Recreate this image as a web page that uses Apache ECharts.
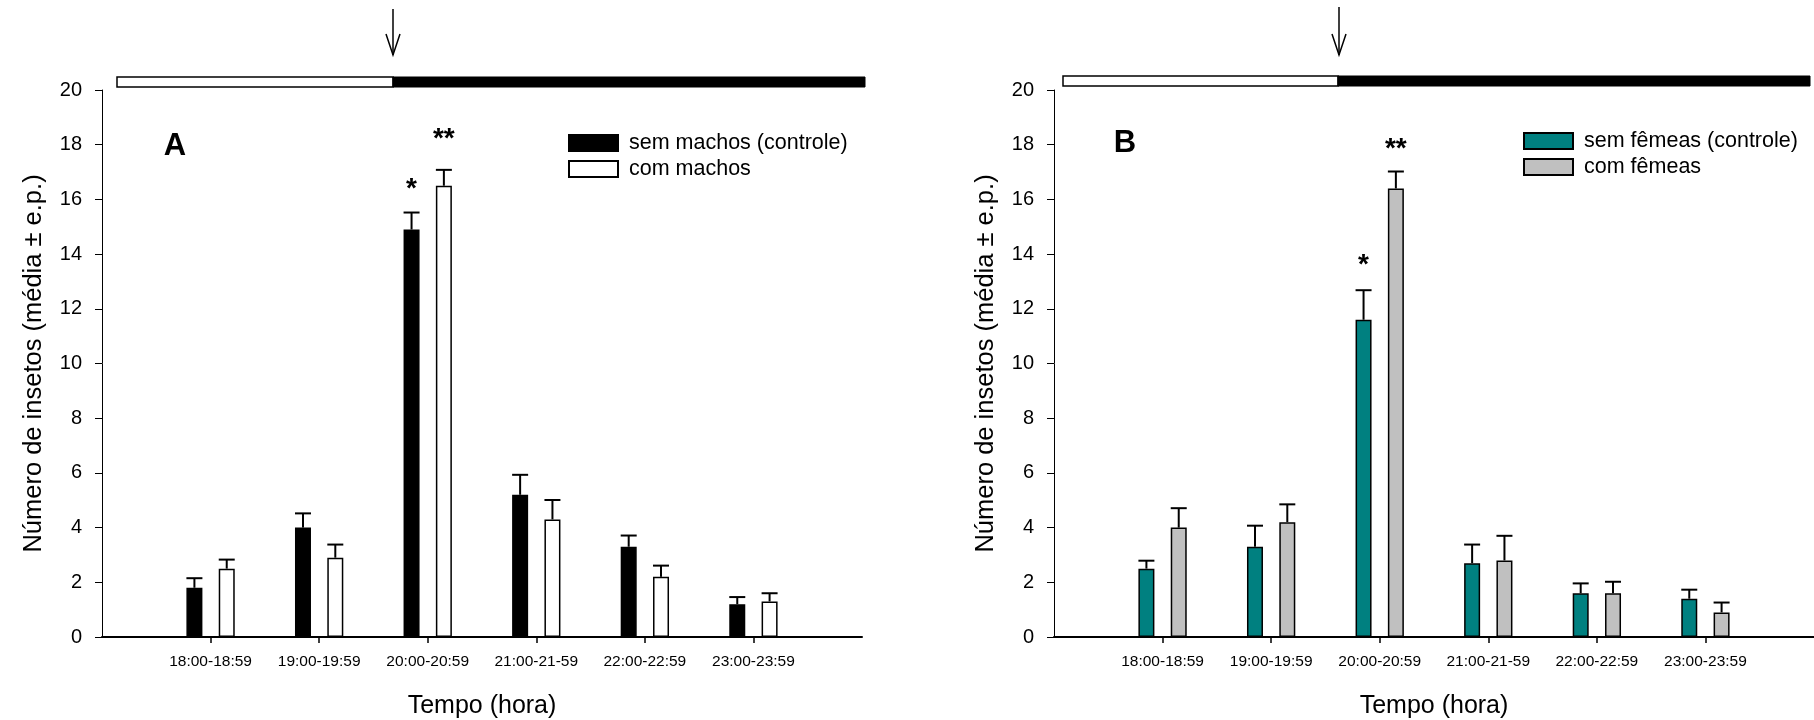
<!DOCTYPE html>
<html><head><meta charset="utf-8">
<script src="https://cdn.jsdelivr.net/npm/echarts@6/dist/echarts.min.js"></script>
<style>html,body{margin:0;padding:0;background:#fff}#c{width:1814px;height:720px}</style>
</head><body><div id="c"></div>
<script>
// ---- data ----
const categories = ['18:00-18:59','19:00-19:59','20:00-20:59','21:00-21-59','22:00-22:59','23:00-23:59'];
const yMin = 0, yMax = 20, yStep = 2;

const semMachos   = [1.8, 4.0, 14.9, 5.2, 3.3, 1.2];
const semMachosSE = [0.35, 0.52, 0.62, 0.73, 0.41, 0.26];
const comMachos   = [2.5, 2.9, 16.5, 4.3, 2.2, 1.3];
const comMachosSE = [0.33, 0.48, 0.58, 0.71, 0.41, 0.30];

const semFemeas   = [2.5, 3.3, 11.6, 2.7, 1.6, 1.4];
const semFemeasSE = [0.29, 0.77, 1.08, 0.68, 0.36, 0.33];
const comFemeas   = [4.0, 4.2, 16.4, 2.8, 1.6, 0.9];
const comFemeasSE = [0.71, 0.65, 0.62, 0.90, 0.42, 0.36];

// significance marks and the level (in y units) at which they are printed
const sigSemMachos = ['', '', '*', '', '', ''];
const sigSemMachosAt = [0, 0, 16.6, 0, 0, 0];
const sigComMachos = ['', '', '**', '', '', ''];
const sigComMachosAt = [0, 0, 18.4, 0, 0, 0];
const sigSemFemeas = ['', '', '*', '', '', ''];
const sigSemFemeasAt = [0, 0, 13.8, 0, 0, 0];
const sigComFemeas = ['', '', '**', '', '', ''];
const sigComFemeasAt = [0, 0, 18.05, 0, 0, 0];

const namesA = ['sem machos (controle)', 'com machos'];
const namesB = ['sem f\u00eameas (controle)', 'com f\u00eameas'];
const yTitle = 'N\u00famero de insetos (m\u00e9dia \u00b1 e.p.)';
const xTitle = 'Tempo (hora)';

// ---- styles ----
const FONT = '"Liberation Sans", Arial, sans-serif';
const BAR_W = 16, BAR_GAP = 1.02;
const OFFSET = BAR_W * (1 + BAR_GAP) / 2;
const CAP = 16;

const axisCats = [''].concat(categories, ['']);
const pad = arr => ['-'].concat(arr, ['-']);

function barSeries(name, idx, vals, fill) {
  return {
    name, type: 'bar', xAxisIndex: idx, yAxisIndex: idx,
    data: pad(vals), barWidth: BAR_W, barGap: (BAR_GAP * 100) + '%',
    itemStyle: { color: fill, borderColor: '#000', borderWidth: 1.5 },
    emphasis: { disabled: true }, animation: false
  };
}
function errSeries(idx, vals, ses, sigs, sigAt, side) {
  return {
    type: 'custom', xAxisIndex: idx, yAxisIndex: idx, z: 3, animation: false,
    data: vals.map((m, i) => [i + 1, m, ses[i], sigAt[i]]),
    encode: { x: 0, y: 1 },
    renderItem: (params, api) => {
      const i = params.dataIndex;
      const base = api.coord([api.value(0), api.value(1)]);
      const top = api.coord([api.value(0), api.value(1) + api.value(2)]);
      const cx = base[0] + side * OFFSET;
      const ch = [
        { type: 'line', shape: { x1: cx, y1: base[1], x2: cx, y2: top[1] }, style: { stroke: '#000', lineWidth: 2 } },
        { type: 'line', shape: { x1: cx - CAP / 2, y1: top[1], x2: cx + CAP / 2, y2: top[1] }, style: { stroke: '#000', lineWidth: 2 } }
      ];
      if (sigs[i]) {
        const sp = api.coord([api.value(0), api.value(3)]);
        ch.push({ type: 'text', x: cx, y: sp[1] + 6,
          style: { text: sigs[i], fontSize: 28, fontWeight: 'bold', fontFamily: FONT, fill: '#000', align: 'center', verticalAlign: 'middle' } });
      }
      return { type: 'group', children: ch };
    }
  };
}
function xAxis(idx) {
  return {
    gridIndex: idx, type: 'category', data: axisCats, boundaryGap: false,
    axisLine: { lineStyle: { color: '#000', width: 2 } },
    axisTick: { length: 6, interval: (i, v) => v !== '', lineStyle: { color: '#000', width: 1.5 } },
    axisLabel: { interval: 0, fontSize: 15.5, margin: 17, color: '#000', fontFamily: FONT },
    splitLine: { show: false },
    name: xTitle, nameLocation: 'middle', nameGap: 57,
    nameTextStyle: { fontSize: 25, color: '#000', fontFamily: FONT }
  };
}
function yAxis(idx) {
  return {
    gridIndex: idx, type: 'value', min: yMin, max: yMax, interval: yStep,
    axisLine: { show: true, lineStyle: { color: '#000', width: 1 } },
    axisTick: { show: true, length: 7, lineStyle: { color: '#000', width: 1 } },
    axisLabel: { fontSize: 20, margin: 20, color: '#000', fontFamily: FONT },
    splitLine: { show: false },
    name: yTitle, nameLocation: 'middle', nameGap: 55,
    nameTextStyle: { fontSize: 25.5, color: '#000', fontFamily: FONT }
  };
}
function legend(names, left, top) {
  return {
    data: names, orient: 'vertical', left, top, padding: 0,
    itemWidth: 49, itemHeight: 16, itemGap: 4,
    icon: 'rect', selectedMode: false,
    textStyle: { fontSize: 21.5, color: '#000', fontFamily: FONT, padding: [0, 0, 0, 6] }
  };
}
function dayNight(x0, xs, x1, y) {
  return [
    { type: 'rect', shape: { x: x0, y, width: xs - x0, height: 10 }, style: { fill: '#fff', stroke: '#000', lineWidth: 1.5 } },
    { type: 'rect', shape: { x: xs, y, width: x1 - xs, height: 10 }, style: { fill: '#000', stroke: '#000', lineWidth: 1 } }
  ];
}
function arrow(x, y0, y1) {
  return [
    { type: 'line', shape: { x1: x, y1: y0, x2: x, y2: y1 }, style: { stroke: '#000', lineWidth: 1.5 } },
    { type: 'polyline', shape: { points: [[x - 7, y1 - 21], [x, y1], [x + 7, y1 - 21]] }, style: { stroke: '#000', lineWidth: 1.5, fill: null } }
  ];
}

const chart = echarts.init(document.getElementById('c'), null, { renderer: 'canvas' });
chart.setOption({
  backgroundColor: '#fff',
  animation: false,
  textStyle: { fontFamily: FONT },
  grid: [
    { left: 102, top: 90, width: 760, height: 547, containLabel: false, outerBoundsMode: 'none' },
    { left: 1054, top: 90, width: 760, height: 547, containLabel: false, outerBoundsMode: 'none' }
  ],
  xAxis: [xAxis(0), xAxis(1)],
  yAxis: [yAxis(0), yAxis(1)],
  legend: [legend(namesA, 568, 132), legend(namesB, 1523, 130)],
  series: [
    barSeries(namesA[0], 0, semMachos, '#000000'),
    barSeries(namesA[1], 0, comMachos, '#ffffff'),
    errSeries(0, semMachos, semMachosSE, sigSemMachos, sigSemMachosAt, -1),
    errSeries(0, comMachos, comMachosSE, sigComMachos, sigComMachosAt, 1),
    barSeries(namesB[0], 1, semFemeas, '#008080'),
    barSeries(namesB[1], 1, comFemeas, '#c0c0c0'),
    errSeries(1, semFemeas, semFemeasSE, sigSemFemeas, sigSemFemeasAt, -1),
    errSeries(1, comFemeas, comFemeasSE, sigComFemeas, sigComFemeasAt, 1)
  ],
  graphic: [].concat(
    dayNight(117, 393, 865, 77),
    dayNight(1063, 1338, 1810, 76),
    arrow(393, 9, 55),
    arrow(1339, 7, 55),
    [
      { type: 'text', x: 175, y: 146, style: { text: 'A', fontSize: 31, fontWeight: 'bold', fontFamily: FONT, fill: '#000', align: 'center', verticalAlign: 'middle' } },
      { type: 'text', x: 1125, y: 143, style: { text: 'B', fontSize: 31, fontWeight: 'bold', fontFamily: FONT, fill: '#000', align: 'center', verticalAlign: 'middle' } }
    ]
  )
});
</script>
</body></html>
